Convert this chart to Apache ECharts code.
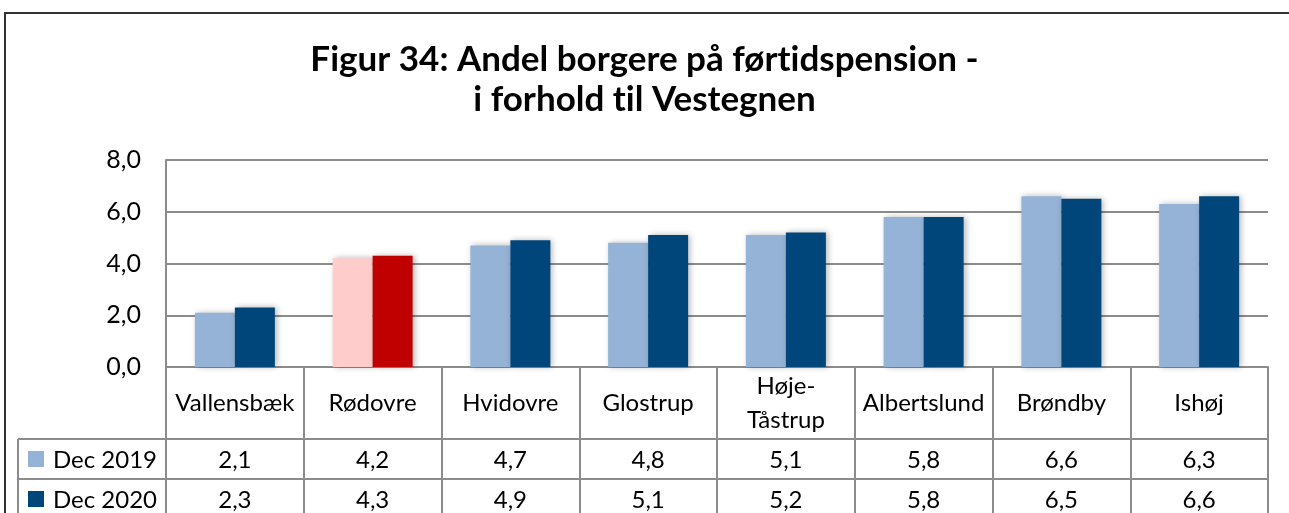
<!DOCTYPE html>
<html>
<head>
<meta charset="utf-8">
<script src="https://cdn.jsdelivr.net/npm/echarts@6/dist/echarts.min.js"></script>
<style>
  html, body { margin: 0; padding: 0; background: #fff; }
  #chart { width: 1289px; height: 513px; }
</style>
</head>
<body>
<div id="chart"></div>
<script>
// Municipalities on the x axis
const categories = ['Vallensbæk', 'Rødovre', 'Hvidovre', 'Glostrup', 'Høje-\nTåstrup', 'Albertslund', 'Brøndby', 'Ishøj'];
// Share of residents on early retirement pension (%)
const dec2019 = [2.1, 4.2, 4.7, 4.8, 5.1, 5.8, 6.6, 6.3];
const dec2020 = [2.3, 4.3, 4.9, 5.1, 5.2, 5.8, 6.5, 6.6];
const seriesNames = ['Dec 2019', 'Dec 2020'];
const yTicks = [0, 2, 4, 6, 8];
// Municipality drawn in red
const highlighted = 'Rødovre';
// Title lines (a zero-width non-joiner keeps "t" and "i" as separate glyphs)
const titleLines = ['Figur 34: Andel borgere på ført\u200Cidspension -', 'i forhold t\u200Cil Vestegnen'];

const FONT = 'Lato, "Open Sans", sans-serif';
const GRAY = '#8c8c8c';
const colors = { normal: ['#95B3D7', '#00467A'], highlight: ['#FFCCCC', '#C00000'] };

const grid = { left: 166, right: 21, top: 160, bottom: 146 };
const headerHeight = 72;
const rowHeight = 40;
const legendLeft = 18;

const fmt = v => v.toFixed(1).replace('.', ',');

function barData(values, s) {
  return values.map((v, i) => ({
    value: v,
    itemStyle: { color: categories[i] === highlighted ? colors.highlight[s] : colors.normal[s] }
  }));
}

const chart = echarts.init(document.getElementById('chart'), null, { renderer: 'canvas' });

const barShadow = { shadowColor: 'rgba(0,0,0,0.28)', shadowBlur: 6, shadowOffsetX: 2, shadowOffsetY: 0 };

chart.setOption({
  animation: false,
  grid: { left: grid.left, right: grid.right, top: grid.top, bottom: grid.bottom, containLabel: false },
  xAxis: {
    type: 'category',
    data: categories,
    axisLine: { lineStyle: { color: GRAY, width: 2 } },
    axisTick: { show: true, length: 150, lineStyle: { color: GRAY, width: 2 } },
    axisLabel: {
      interval: 0,
      margin: 36,
      verticalAlign: 'middle',
      fontFamily: FONT, fontSize: 24, lineHeight: 34, color: '#000'
    }
  },
  yAxis: {
    type: 'value',
    min: yTicks[0],
    max: yTicks[yTicks.length - 1],
    interval: yTicks[1] - yTicks[0],
    axisLine: { show: true, lineStyle: { color: GRAY, width: 2 } },
    axisTick: { show: false },
    splitLine: { lineStyle: { color: GRAY, width: 2 } },
    axisLabel: { formatter: fmt, margin: 25, fontFamily: FONT, fontSize: 25, color: '#000' }
  },
  series: [
    { name: seriesNames[0], type: 'bar', data: barData(dec2019, 0), barWidth: 40, barGap: '0%', itemStyle: barShadow },
    { name: seriesNames[1], type: 'bar', data: barData(dec2020, 1), barWidth: 40, barGap: '0%', itemStyle: barShadow }
  ]
});

// Frame, title and the data table under the plot
function drawExtras() {
  const W = chart.getWidth(), H = chart.getHeight();
  const plotRight = W - grid.right;
  const axisY = H - grid.bottom;
  const row1Top = axisY + headerHeight;
  const row2Top = row1Top + rowHeight;
  const line = (x1, y1, x2, y2, stroke) => ({
    type: 'line', silent: true,
    shape: { x1, y1, x2, y2 },
    style: { stroke: stroke || GRAY, lineWidth: 2 }
  });
  const els = [
    line(4, 13, W, 13, '#333'),
    line(5, 12, 5, H + 4, '#333'),
    line(legendLeft, row1Top, plotRight, row1Top),
    line(legendLeft, row2Top, plotRight, row2Top),
    line(legendLeft, row1Top, legendLeft, H + 4)
  ];
  titleLines.forEach((t, k) => {
    els.push({ type: 'text', silent: true, style: { x: W / 2, y: 60 + 40 * k, text: t,
      font: 'bold 35px ' + FONT, fill: '#000', textAlign: 'center', textVerticalAlign: 'middle' } });
  });
  const rows = [dec2019, dec2020];
  rows.forEach((vals, r) => {
    const cy = row1Top + rowHeight * r + rowHeight / 2;
    els.push({ type: 'rect', silent: true, shape: { x: 28, y: cy - 8, width: 16, height: 16 },
      style: { fill: colors.normal[r] } });
    els.push({ type: 'text', silent: true, style: { x: 53, y: cy + 1, text: seriesNames[r],
      font: '24px ' + FONT, fill: '#000', textVerticalAlign: 'middle', textAlign: 'left' } });
    vals.forEach((v, i) => {
      const x = chart.convertToPixel({ xAxisIndex: 0 }, i);
      els.push({ type: 'text', silent: true, style: { x, y: cy + 1, text: fmt(v),
        font: '24px ' + FONT, fill: '#000', textVerticalAlign: 'middle', textAlign: 'center' } });
    });
  });
  chart.setOption({ graphic: { elements: els } });
}
drawExtras();
</script>
</body>
</html>
